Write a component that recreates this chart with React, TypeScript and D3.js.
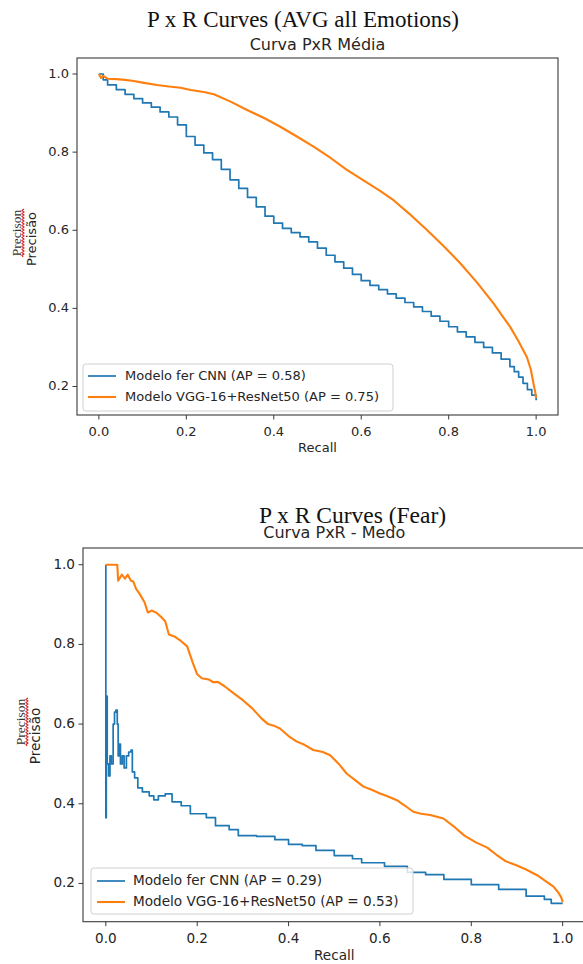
import React from 'react';
import * as d3 from 'd3';

// axis ticks
const recallTicks = [0, 0.2, 0.4, 0.6, 0.8, 1.0];
const precisionTicks = [0.2, 0.4, 0.6, 0.8, 1.0];

// legend
const seriesNames = ['Modelo fer CNN', 'Modelo VGG-16+ResNet50'];
const avgAP = [0.58, 0.75];
const fearAP = [0.29, 0.53];
const colors = ['#1f77b4', '#ff7f0e'];

// chart 1: average over all emotions
const avgCnnRecall = [0, 0.01, 0.02, 0.04, 0.06, 0.08, 0.1, 0.12, 0.14, 0.16, 0.18, 0.2, 0.22, 0.24, 0.26, 0.28, 0.3, 0.32, 0.34, 0.36, 0.38, 0.4, 0.42, 0.44, 0.46, 0.48, 0.5, 0.52, 0.54, 0.56, 0.58, 0.6, 0.62, 0.64, 0.66, 0.68, 0.7, 0.72, 0.74, 0.76, 0.78, 0.8, 0.82, 0.84, 0.86, 0.88, 0.9, 0.92, 0.94, 0.95, 0.96, 0.97, 0.98, 0.99, 1.0];
const avgCnnPrecision = [1.0, 0.985, 0.972, 0.96, 0.948, 0.937, 0.926, 0.915, 0.903, 0.89, 0.87, 0.84, 0.818, 0.798, 0.781, 0.756, 0.729, 0.707, 0.684, 0.66, 0.636, 0.618, 0.605, 0.594, 0.583, 0.57, 0.554, 0.536, 0.519, 0.503, 0.487, 0.471, 0.459, 0.448, 0.437, 0.426, 0.415, 0.404, 0.392, 0.38, 0.367, 0.353, 0.34, 0.327, 0.313, 0.3, 0.286, 0.27, 0.251, 0.238, 0.224, 0.208, 0.192, 0.178, 0.165];
const avgVggRecall = [0, 0.005, 0.01, 0.02, 0.04, 0.06, 0.08, 0.1, 0.133, 0.16, 0.187, 0.21, 0.24, 0.263, 0.3, 0.339, 0.38, 0.415, 0.45, 0.491, 0.53, 0.568, 0.598, 0.644, 0.674, 0.71, 0.751, 0.79, 0.827, 0.865, 0.903, 0.925, 0.941, 0.96, 0.979, 0.988, 0.994, 0.998, 1.0];
const avgVggPrecision = [1.0, 0.99, 0.995, 0.988, 0.987, 0.985, 0.982, 0.978, 0.972, 0.968, 0.965, 0.959, 0.954, 0.948, 0.93, 0.908, 0.886, 0.865, 0.842, 0.814, 0.785, 0.754, 0.733, 0.7, 0.677, 0.642, 0.6, 0.558, 0.515, 0.466, 0.412, 0.377, 0.352, 0.315, 0.275, 0.243, 0.207, 0.185, 0.17];

// chart 2: fear
const fearCnnRecall = [0, 0, 0.001, 0.003, 0.006, 0.009, 0.012, 0.016, 0.019, 0.022, 0.025, 0.027, 0.029, 0.032, 0.036, 0.04, 0.045, 0.05, 0.055, 0.058, 0.063, 0.07, 0.08, 0.095, 0.105, 0.115, 0.13, 0.145, 0.165, 0.185, 0.205, 0.22, 0.24, 0.27, 0.29, 0.33, 0.37, 0.4, 0.43, 0.46, 0.5, 0.54, 0.56, 0.61, 0.66, 0.7, 0.74, 0.8, 0.86, 0.92, 0.96, 0.975, 1.0];
const fearCnnPrecision = [1.0, 0.365, 0.67, 0.5, 0.47, 0.52, 0.5, 0.6, 0.63, 0.635, 0.6, 0.52, 0.55, 0.5, 0.52, 0.49, 0.52, 0.53, 0.535, 0.48, 0.465, 0.44, 0.43, 0.42, 0.41, 0.42, 0.425, 0.405, 0.395, 0.375, 0.375, 0.365, 0.345, 0.335, 0.32, 0.318, 0.31, 0.298, 0.295, 0.283, 0.27, 0.262, 0.252, 0.243, 0.228, 0.222, 0.21, 0.197, 0.185, 0.168, 0.16, 0.15, 0.15];
const fearVggRecall = [0, 0.025, 0.027, 0.035, 0.042, 0.048, 0.055, 0.06, 0.066, 0.075, 0.085, 0.092, 0.1, 0.11, 0.12, 0.13, 0.138, 0.15, 0.165, 0.178, 0.19, 0.2, 0.21, 0.225, 0.235, 0.245, 0.26, 0.28, 0.3, 0.32, 0.34, 0.355, 0.37, 0.381, 0.4, 0.418, 0.435, 0.454, 0.475, 0.491, 0.51, 0.527, 0.545, 0.564, 0.582, 0.6, 0.618, 0.637, 0.655, 0.673, 0.69, 0.71, 0.739, 0.765, 0.785, 0.81, 0.835, 0.855, 0.875, 0.9, 0.92, 0.945, 0.965, 0.98, 0.99, 0.997, 1.0];
const fearVggPrecision = [1.0, 1.0, 0.96, 0.975, 0.965, 0.975, 0.96, 0.958, 0.94, 0.925, 0.905, 0.88, 0.885, 0.88, 0.87, 0.858, 0.825, 0.82, 0.808, 0.795, 0.755, 0.725, 0.715, 0.712, 0.705, 0.706, 0.695, 0.677, 0.66, 0.64, 0.615, 0.6, 0.595, 0.589, 0.57, 0.556, 0.548, 0.535, 0.53, 0.522, 0.5, 0.476, 0.46, 0.443, 0.435, 0.426, 0.418, 0.409, 0.395, 0.38, 0.375, 0.372, 0.363, 0.34, 0.32, 0.303, 0.29, 0.272, 0.256, 0.245, 0.235, 0.22, 0.204, 0.192, 0.178, 0.165, 0.153];

const sans = "'DejaVu Sans', sans-serif";
const serif = "'Liberation Serif', 'Times New Roman', serif";
const ink = '#262626';

type Frame = {
  left: number; right: number; top: number; bottom: number;
  yDomain: [number, number];
  fs: number;
  title: string; titleX: number; titleY: number; titleAnchor: string; titleSize: number;
  subtitle: string; subtitleY: number;
  ylabX: number; ylabY: number; altShift: number;
  legend: { x: number; y: number; w: number; h: number; lineX: number; textX: number; rows: number[] };
  tickLabelY: number; xlabY: number;
};

function wavy(x0: number, x1: number, yy: number) {
  // red spell-check squiggle
  let d = `M${x0},${yy}`;
  let up = true;
  for (let x = x0 + 1.5; x <= x1; x += 1.5) {
    d += `L${x},${yy + (up ? -0.9 : 0.9)}`;
    up = !up;
  }
  return d;
}

function PRChart({ f, recalls, precisions, ap }: { f: Frame; recalls: number[][]; precisions: number[][]; ap: number[] }) {
  const x = d3.scaleLinear().domain([-0.05, 1.05]).range([f.left, f.right]);
  const y = d3.scaleLinear().domain(f.yDomain).range([f.bottom, f.top]);
  const fmt = d3.format('.1f');

  const paths = recalls.map((r, i) =>
    d3.line<number>()
      .x(d => x(d))
      .y((d, j) => y(precisions[i][j]))
      .curve(i === 0 ? d3.curveStepAfter : d3.curveLinear)(r) || ''
  );

  const cx = (f.left + f.right) / 2;
  const lg = f.legend;

  return (
    <g>
      <text x={f.titleX} y={f.titleY} textAnchor={f.titleAnchor} fontFamily={serif} fontSize={f.titleSize} fill="#111">{f.title}</text>
      <text x={cx} y={f.subtitleY} textAnchor="middle" fontFamily={sans} fontSize={16} fill={ink}>{f.subtitle}</text>

      {paths.map((d, i) => (
        <path key={i} d={d} fill="none" stroke={colors[i]} strokeWidth={i === 0 ? 1.7 : 2.1} strokeLinejoin="round" />
      ))}

      <rect x={f.left} y={f.top} width={f.right - f.left} height={f.bottom - f.top} fill="none" stroke="#3a3a3a" strokeWidth={1.1} />

      {recallTicks.map(t => (
        <g key={'x' + t}>
          <line x1={x(t)} x2={x(t)} y1={f.bottom} y2={f.bottom + 4.5} stroke="#3a3a3a" strokeWidth={1} />
          <text x={x(t)} y={f.tickLabelY} textAnchor="middle" dominantBaseline="middle" fontFamily={sans} fontSize={f.fs} fill={ink}>{fmt(t)}</text>
        </g>
      ))}
      {precisionTicks.map(t => (
        <g key={'y' + t}>
          <line x1={f.left - 4.5} x2={f.left} y1={y(t)} y2={y(t)} stroke="#3a3a3a" strokeWidth={1} />
          <text x={f.left - 8} y={y(t)} textAnchor="end" dominantBaseline="middle" fontFamily={sans} fontSize={f.fs} fill={ink}>{fmt(t)}</text>
        </g>
      ))}

      <text x={x(0.5)} y={f.xlabY} textAnchor="middle" dominantBaseline="middle" fontFamily={sans} fontSize={f.fs} fill={ink}>Recall</text>

      <g transform={`translate(${f.ylabX},${f.ylabY}) rotate(-90)`}>
        <text x={0} y={0} textAnchor="middle" dominantBaseline="middle" fontFamily={sans} fontSize={f.fs} fill={ink}>Precisão</text>
        <text x={f.altShift} y={-14} textAnchor="middle" dominantBaseline="middle" fontFamily={serif} fontSize={13.5} fill="#333">Precison</text>
        <path d={wavy(f.altShift - 24, f.altShift + 24, -9)} fill="none" stroke="#e02020" strokeWidth={1.2} />
      </g>

      <rect x={lg.x} y={lg.y} width={lg.w} height={lg.h} rx={3} fill="#fff" fillOpacity={0.8} stroke="#d0d0d0" strokeWidth={1} />
      {seriesNames.map((name, i) => (
        <g key={name}>
          <line x1={lg.lineX} x2={lg.lineX + 28} y1={lg.rows[i]} y2={lg.rows[i]} stroke={colors[i]} strokeWidth={i === 0 ? 1.7 : 2.1} />
          <text x={lg.textX} y={lg.rows[i]} dominantBaseline="middle" fontFamily={sans} fontSize={f.fs} fill={ink}>{`${name} (AP = ${ap[i].toFixed(2)})`}</text>
        </g>
      ))}
    </g>
  );
}

const avgFrame: Frame = {
  left: 77, right: 558, top: 58, bottom: 415,
  yDomain: [0.127, 1.041],
  fs: 13,
  title: 'P x R Curves (AVG all Emotions)', titleX: 303, titleY: 27, titleAnchor: 'middle', titleSize: 23,
  subtitle: 'Curva PxR Média', subtitleY: 50,
  ylabX: 32, ylabY: 239, altShift: 6,
  legend: { x: 83, y: 364, w: 310, h: 47, lineX: 88, textX: 125, rows: [376, 397] },
  tickLabelY: 432, xlabY: 448,
};

const fearFrame: Frame = {
  left: 83, right: 585.5, top: 548, bottom: 921.7,
  yDomain: [0.104, 1.042],
  fs: 13.6,
  title: 'P x R Curves (Fear)', titleX: 259, titleY: 523, titleAnchor: 'start', titleSize: 23.5,
  subtitle: 'Curva PxR - Medo', subtitleY: 538,
  ylabX: 36, ylabY: 736, altShift: 14,
  legend: { x: 91, y: 868, w: 322, h: 46, lineX: 97, textX: 133, rows: [881, 902] },
  tickLabelY: 939, xlabY: 956,
};

export default function App() {
  return (
    <div style={{ position: 'absolute', left: 0, top: 0 }}>
      <svg width={583} height={964} style={{ display: 'block', background: '#fff' }}>
        <PRChart f={avgFrame} recalls={[avgCnnRecall, avgVggRecall]} precisions={[avgCnnPrecision, avgVggPrecision]} ap={avgAP} />
        <PRChart f={fearFrame} recalls={[fearCnnRecall, fearVggRecall]} precisions={[fearCnnPrecision, fearVggPrecision]} ap={fearAP} />
      </svg>
    </div>
  );
}
